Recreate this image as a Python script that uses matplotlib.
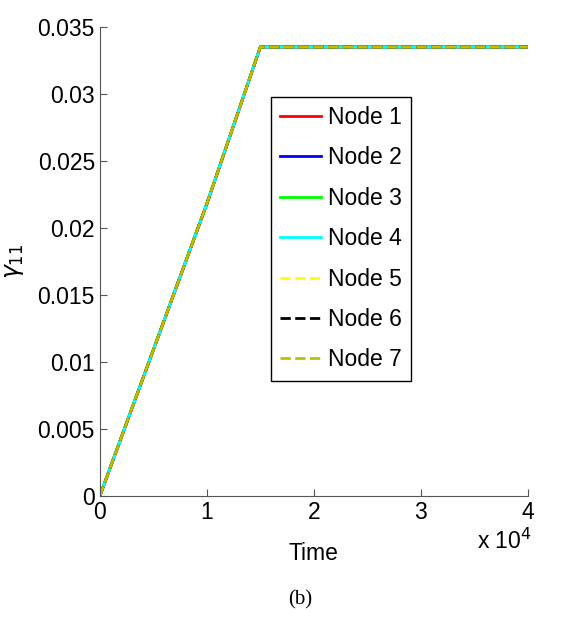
import matplotlib.pyplot as plt
from matplotlib.ticker import FuncFormatter

plt.rcParams['font.family'] = ['Liberation Sans', 'DejaVu Sans']

time = [0, 10000, 15000, 40000]
gamma = [0, 0.0218, 0.0335, 0.0335]
labels = ['Node 1', 'Node 2', 'Node 3', 'Node 4', 'Node 5', 'Node 6', 'Node 7']
colors = ['#ff0000', '#0000ff', '#00ff00', '#00ffff', '#ffff00', '#000000', '#bfbf00']
styles = ['-', '-', '-', '-', '--', '--', '--']
yticks = [0, 0.005, 0.01, 0.015, 0.02, 0.025, 0.03, 0.035]
xticks = [0, 10000, 20000, 30000, 40000]

fig = plt.figure(figsize=(5.64, 6.24), dpi=100)
ax = fig.add_axes([0.177, 0.205, 0.759, 0.752])

for lab, c, ls in zip(labels, colors, styles):
    ax.plot(time, gamma, color=c, linestyle=ls, linewidth=2, label=lab)

ax.set_xlim(0, 40000)
ax.set_ylim(0, 0.035)
ax.set_xticks(xticks)
ax.set_yticks(yticks)
ax.xaxis.set_major_formatter(FuncFormatter(lambda v, p: '%g' % (v / 1e4)))
ax.yaxis.set_major_formatter(FuncFormatter(lambda v, p: '%g' % v))
ax.tick_params(direction='in', length=5, labelsize=16.5, colors='black')
ax.spines['top'].set_visible(False)
ax.spines['right'].set_visible(False)
for s in ['left', 'bottom']:
    ax.spines[s].set_color('#555555')
ax.tick_params(axis='both', color='#555555')

ax.set_xlabel('Time', fontsize=16.5, labelpad=13)
ax.set_ylabel(r'$\gamma_{\rm 11}$', fontsize=17, labelpad=8)
fig.text(0.895, 0.133, r'x 10$^{4}$', fontsize=16.5, ha='center', va='center')
fig.text(0.532, 0.038, '(b)', fontsize=15, ha='center', va='center',
         family=['Liberation Serif', 'DejaVu Serif'])

leg = ax.legend(loc='upper left', bbox_to_anchor=(0.4, 0.851), fontsize=16.5,
                frameon=True, fancybox=False, edgecolor='black', framealpha=1,
                handlelength=1.8, handletextpad=0.3, labelspacing=0.76,
                borderpad=0.4, borderaxespad=0)
leg.get_frame().set_linewidth(1.0)

fig.savefig('out.png', dpi=100)
